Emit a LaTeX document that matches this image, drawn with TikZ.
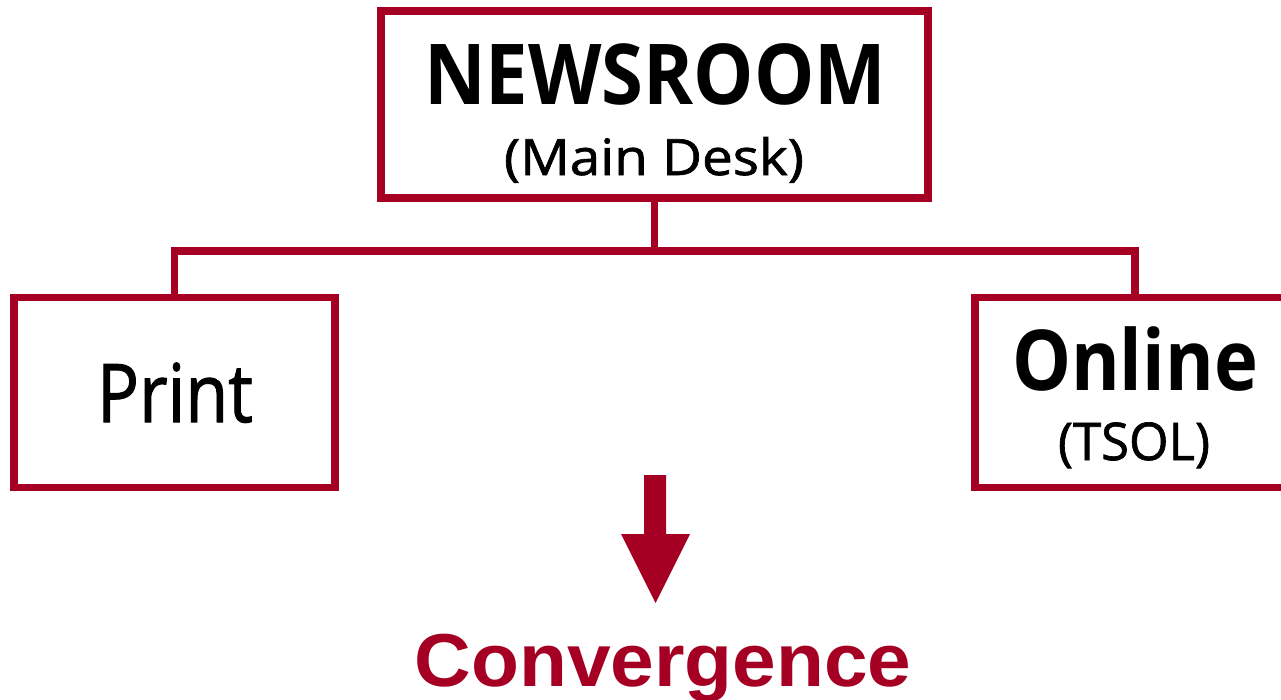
\documentclass[tikz,border=0pt]{standalone}
\usepackage{graphicx}
\usepackage{fontspec}
\setmainfont{Open Sans}
\newfontfamily\medfont{Open Sans}[FakeBold=1.3]
\newfontfamily\convfont{Liberation Sans}
\definecolor{deskred}{RGB}{165,0,36}
\newsavebox\fitwbox
\newcommand\fitw[2]{\sbox\fitwbox{#2}\pgfmathsetmacro\fitwsx{#1/\wd\fitwbox}\scalebox{\fitwsx}[1]{\usebox\fitwbox}}
\begin{document}
\begin{tikzpicture}[x=1pt,y=-1pt,
  box/.style={draw=deskred,line width=7.5pt,rectangle,inner sep=0pt,fill=white},
  conn/.style={draw=deskred,line width=7.5pt},
  lbl/.style={anchor=base,inner sep=0pt,text=black},
]
\useasboundingbox (0,0) rectangle (1281,699);
\node[box,minimum width=547pt,minimum height=187pt] (newsroom) at (654.5,104.5) {};
\node[box,minimum width=321pt,minimum height=190pt] (print) at (174.5,392.5) {};
\node[box,minimum width=320pt,minimum height=190pt] (online) at (1135,392.5) {};
\coordinate (bus) at (654.5,251);
\draw[conn] (newsroom.south) -- (bus);
\draw[conn] (print.north) |- (bus) -| (online.north);
\node[lbl] (t1) at (655,104) {\fitw{462}{\fontsize{84}{84}\selectfont\bfseries NEWSROOM}};
\node[lbl] (t2) at (654,175) {\fitw{300}{\fontsize{50}{50}\medfont (Main Desk)}};
\node[lbl] (t3) at (175,422) {\fitw{156}{\fontsize{81}{81}\medfont Print}};
\node[lbl] (t4) at (1135,390) {\fitw{246}{\fontsize{84}{84}\selectfont\bfseries Online}};
\node[lbl] (t5) at (1134,460) {\fitw{152}{\fontsize{52}{52}\medfont (TSOL)}};
\fill[deskred] (644,475) -- (666,475) -- (666,534) -- (690,534) -- (655.5,603) -- (621,534) -- (644,534) -- cycle;
\node[lbl,text=deskred] (conv) at (663,686) {\fitw{497}{\fontsize{75}{75}\convfont\bfseries Convergence}};
\end{tikzpicture}
\end{document}
